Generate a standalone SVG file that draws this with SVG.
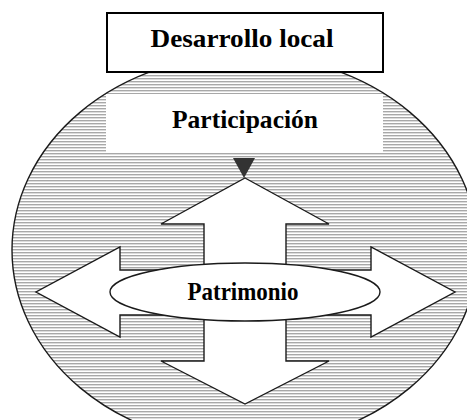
<svg xmlns="http://www.w3.org/2000/svg" width="467" height="420" viewBox="0 0 467 420">
  <defs>
    <pattern id="hatch" patternUnits="userSpaceOnUse" width="4" height="3">
      <rect x="0" y="0" width="4" height="3" fill="#ffffff"/>
      <rect x="0" y="0" width="4" height="1" fill="#a8a8a8"/>
      <rect x="0" y="1" width="4" height="1" fill="#dcdcdc"/>
    </pattern>
    <style>
      .lbl { font-family: "Liberation Serif", "Times New Roman", serif; font-weight: bold; font-size: 25px; fill: #000; }
      .edge { stroke: #1a1a1a; stroke-width: 1.4; }
    </style>
  </defs>
  <rect x="0" y="0" width="467" height="420" fill="#ffffff"/>

  <g id="ambito">
    <ellipse cx="245" cy="250" rx="233" ry="195" fill="url(#hatch)" class="edge" stroke-width="1.6"/>
  </g>

  <g id="participacion">
    <rect x="106" y="94" width="277" height="58" fill="#ffffff"/>
    <text class="lbl" x="245" y="128" text-anchor="middle" textLength="146" lengthAdjust="spacingAndGlyphs">Participación</text>
  </g>

  <g id="desarrollo-local">
    <rect x="107" y="13" width="276" height="59" fill="#ffffff" stroke="#000" stroke-width="2"/>
    <text class="lbl" x="242" y="47" text-anchor="middle" textLength="183" lengthAdjust="spacingAndGlyphs">Desarrollo local</text>
  </g>

  <g id="flechas">
    <path class="edge" fill="#ffffff" d="M245,178 L329,224 L286,224 L286,270 L371,270 L371,247 L455,292 L371,337 L371,315 L286,315 L286,361 L329,361 L245,404 L161,361 L204,361 L204,315 L120,315 L120,337 L36,292 L120,247 L120,270 L204,270 L204,224 L161,224 Z"/>
  </g>

  <g id="patrimonio">
    <ellipse cx="245" cy="292" rx="135" ry="29" fill="#ffffff" class="edge"/>
    <text class="lbl" x="243" y="300" text-anchor="middle" textLength="111" lengthAdjust="spacingAndGlyphs">Patrimonio</text>
  </g>

  <g id="connectors">
    <polygon points="233,158 255,158 244,178" fill="#333333"/>
  </g>
</svg>
